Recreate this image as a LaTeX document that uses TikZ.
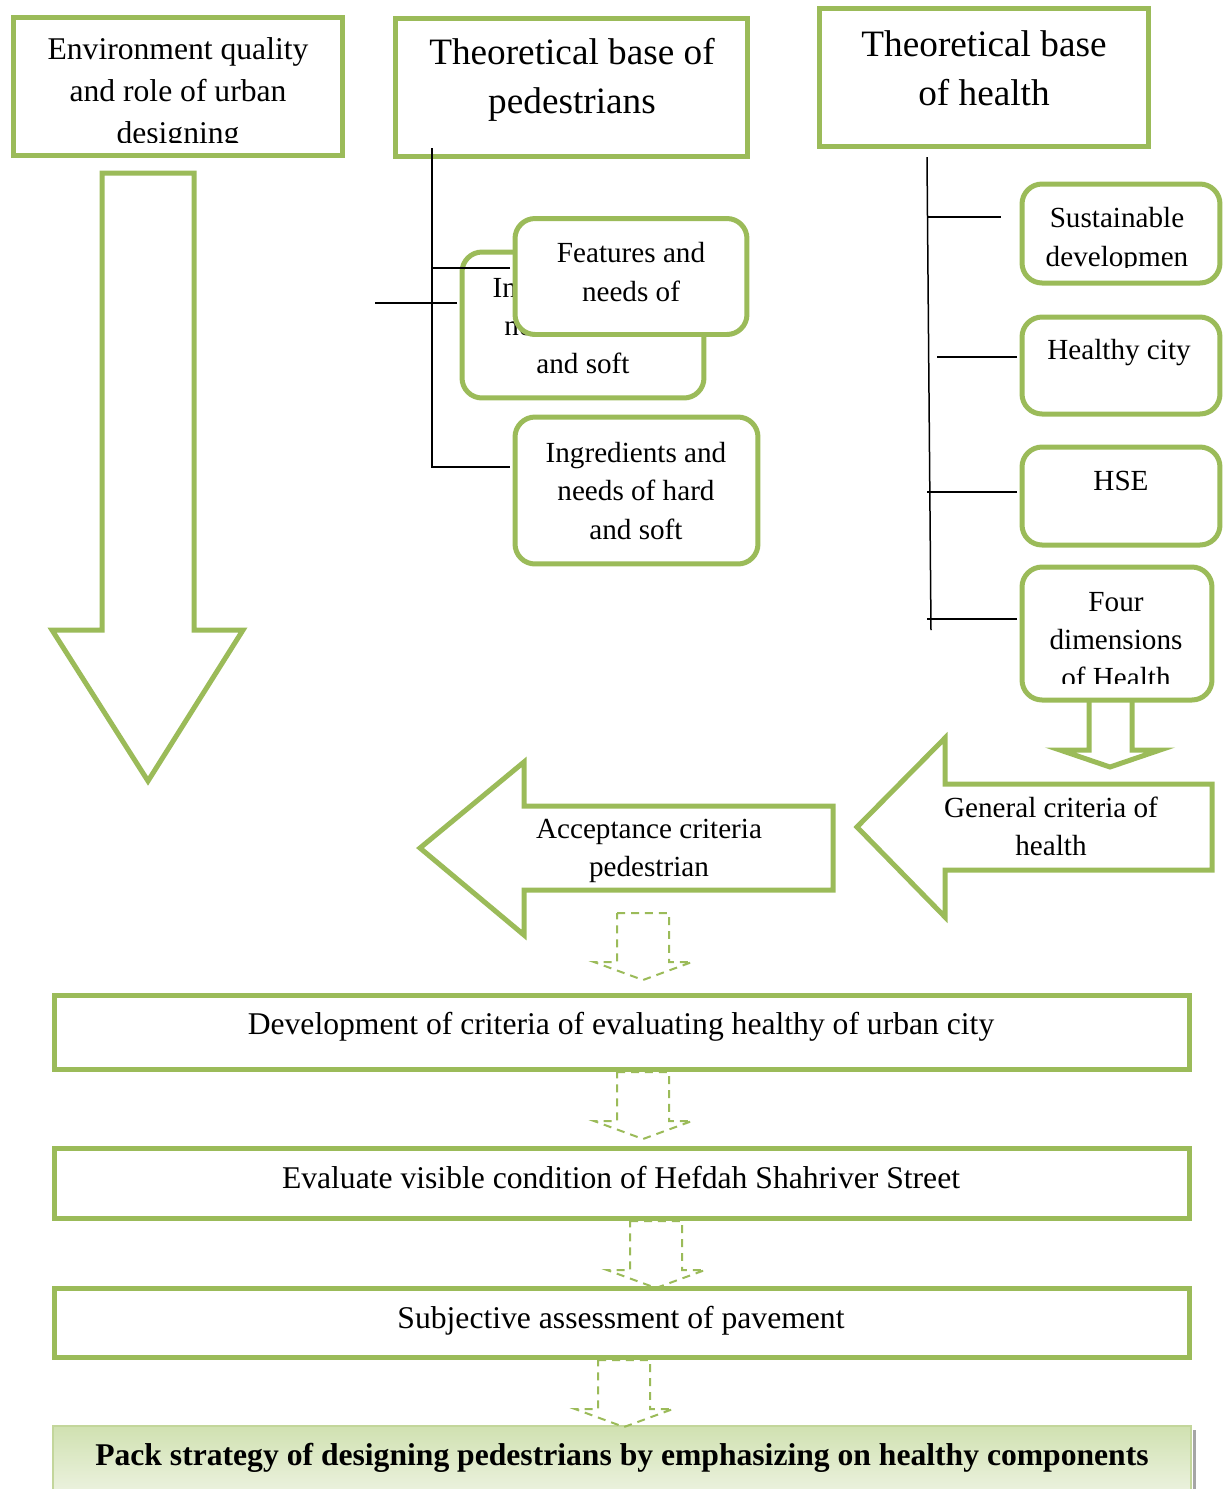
\documentclass[tikz,border=0pt]{standalone}
\usepackage{fontspec}
\setmainfont{Liberation Serif}
\definecolor{leafgreen}{HTML}{9BBB59}
\definecolor{packedge}{HTML}{C3D69B}
\definecolor{packdark}{HTML}{D0E1B1}
\definecolor{packlight}{HTML}{EFF4E4}
\tikzset{
  greenbox/.style={draw=leafgreen, line width=0.1cm, fill=white, inner sep=0pt},
  roundbox/.style={greenbox, rounded corners=0.4cm},
  blockarrow/.style={draw=leafgreen, line width=0.1cm, fill=white, line join=miter},
  dasharrow/.style={draw=leafgreen, line width=0.04cm, dash pattern=on 0.16cm off 0.12cm},
  treeline/.style={line width=0.03cm},
  boxtext/.style={align=center, inner sep=0pt, font=\fontsize{18}{23.9}\selectfont},
  headtext/.style={align=center, inner sep=0pt, font=\fontsize{21.2}{28}\selectfont},
  smalltext/.style={align=center, inner sep=0pt, font=\fontsize{16.6}{21.8}\selectfont},
}
\begin{document}
\begin{tikzpicture}[x=0.02cm, y=-0.02cm]
\useasboundingbox (0,0) rectangle (1224,1489);

% top row
\node[greenbox, minimum width=6.6cm, minimum height=2.78cm] (envbox) at (178,86.5) {};
\node[greenbox, minimum width=7.06cm, minimum height=2.78cm] (pedbox) at (571.5,87.5) {};
\node[greenbox, minimum width=6.6cm, minimum height=2.78cm] (healthbox) at (984,77.5) {};
\begin{scope}
\clip (envbox.north west) rectangle (343,142);
\node[boxtext] (envtext) at (178,93.5) {Environment quality\\and role of urban\\designing};
\end{scope}
\node[headtext] (pedtext) at (572,79.5) {Theoretical base of\\pedestrians};
\node[headtext] (healthtext) at (984,68) {Theoretical base\\of health};

% big arrow on the left
\draw[blockarrow] (102,173) -- (194,173) -- (194,630) -- (243,630) -- (148,781) -- (52,630) -- (102,630) -- cycle;

% pedestrians branch
\node[roundbox, minimum width=4.84cm, minimum height=2.92cm] (hidbox) at (583,325) {};
\node[smalltext] (hidtext) at (583,325.5) {Ingredients and\\needs of hard\\and soft};
\node[roundbox, minimum width=4.64cm, minimum height=2.32cm] (featbox) at (631,276.5) {};
\node[smalltext] (feattext) at (631,272) {Features and\\needs of};
\node[roundbox, minimum width=4.86cm, minimum height=2.94cm] (ingrbox) at (636.5,490.5) {};
\node[smalltext] (ingrtext) at (636,491) {Ingredients and\\needs of hard\\and soft};

\coordinate (pedroot) at (432,148);
\draw[treeline] (pedroot) |- ([xshift=-0.05cm, yshift=0.47cm]ingrbox.west);
\draw[treeline] ([xshift=-0.05cm, yshift=0.17cm]featbox.west) -- ++(-78,0);
\draw[treeline] ([xshift=-0.05cm, yshift=0.44cm]hidbox.west) -- ++(-82,0);

% health branch
\draw[blockarrow] (1089,698) -- (1089,750) -- (1060,750) -- (1110,767) -- (1160,750) -- (1132,750) -- (1132,698);
\node[roundbox, minimum width=3.96cm, minimum height=1.98cm] (sustbox) at (1121,233.5) {};
\node[roundbox, minimum width=3.96cm, minimum height=1.94cm] (citybox) at (1121,365.5) {};
\node[roundbox, minimum width=3.96cm, minimum height=1.96cm] (hsebox) at (1121,496) {};
\node[roundbox, minimum width=3.8cm, minimum height=2.66cm] (fourbox) at (1117,633.5) {};
\begin{scope}
\clip (sustbox.north west) rectangle (1220,267);
\node[smalltext] (susttext) at (1117,240) {Sustainable\\developmen};
\end{scope}
\node[smalltext] (citytext) at (1119,353) {Healthy city};
\node[smalltext] (hsetext) at (1121,481) {HSE};
\begin{scope}
\clip (fourbox.north west) rectangle (1212,683);
\node[smalltext] (fourtext) at (1116,640) {Four\\dimensions\\of Health};
\end{scope}

\coordinate (healthroot) at (927,157);
\coordinate (healthfoot) at (931,630);
\draw[treeline] (healthroot) -- (healthfoot);
\draw[treeline] ([xshift=-0.38cm, yshift=0.33cm]sustbox.west) -- ++(-73,0);
\draw[treeline] ([xshift=-0.05cm, yshift=0.17cm]citybox.west) -- ++(-80,0);
\draw[treeline] ([xshift=-0.05cm, yshift=0.08cm]hsebox.west) -- ++(-90,0);
\draw[treeline] ([xshift=-0.05cm, yshift=0.29cm]fourbox.west) -- ++(-90,0);

% criteria arrows
\draw[blockarrow] (945,784) -- (1212,784) -- (1212,870) -- (945,870) -- (945,917) -- (857,827) -- (945,738) -- cycle;
\node[smalltext] (generaltext) at (1051,826.5) {General criteria of\\health};
\draw[blockarrow] (524,806) -- (833,806) -- (833,890) -- (524,890) -- (524,935) -- (420,848) -- (524,762) -- cycle;
\node[smalltext] (accepttext) at (649,851) {Acceptance criteria\\pedestrian};

% steps
\node[greenbox, minimum width=22.7cm, minimum height=1.48cm] (devbox) at (622,1032.5) {};
\node[greenbox, minimum width=22.7cm, minimum height=1.4cm] (evalbox) at (622,1183.5) {};
\node[greenbox, minimum width=22.7cm, minimum height=1.38cm] (subjbox) at (622,1323) {};
\node[draw=packedge, line width=0.04cm, top color=packdark, bottom color=packlight,
  minimum width=22.76cm, minimum height=1.48cm] (packbox) at (622,1463) {};
\draw[gray!70, line width=0.05cm] ([xshift=0.05cm, yshift=-0.1cm]packbox.north east) -- ([xshift=0.05cm]packbox.south east);

\node[boxtext] (devtext) at (621,1027) {Development of criteria of evaluating healthy of urban city};
\node[boxtext] (evaltext) at (621,1178) {Evaluate visible condition of Hefdah Shahriver Street};
\node[boxtext] (subjtext) at (621,1321) {Subjective assessment of pavement};
\node[boxtext, font=\fontsize{18}{23.9}\selectfont\bfseries] (packtext) at (622,1458) {Pack strategy of designing pedestrians by emphasizing on healthy components};

\foreach \cx/\ty in {643/913, 643/1072, 656/1221, 624/1360}
  \draw[dasharrow] ({\cx-26},\ty) -- ({\cx+26},\ty) -- ({\cx+26},{\ty+49}) -- ({\cx+49},{\ty+49})
    -- (\cx,{\ty+67}) -- ({\cx-49},{\ty+49}) -- ({\cx-26},{\ty+49}) -- cycle;
\end{tikzpicture}
\end{document}
